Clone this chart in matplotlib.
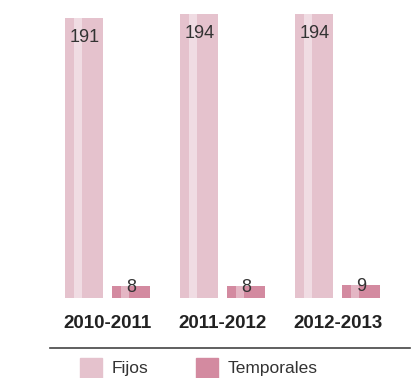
import numpy as np
import matplotlib.pyplot as plt
from matplotlib.patches import Rectangle
from matplotlib.lines import Line2D

periods = ["2010-2011", "2011-2012", "2012-2013"]
fijos = [191, 194, 194]
temporales = [8, 8, 9]
series_names = ["Fijos", "Temporales"]

c_fijos = "#e5c2cd"
c_fijos_hi = "#f0dce3"
c_temp = "#d38aa0"
c_temp_hi = "#e4b6c4"

plt.rcParams['font.family'] = ['Liberation Sans', 'DejaVu Sans']

fig = plt.figure(figsize=(4.12, 3.78), dpi=100)
W, H = 412, 378
ax = fig.add_axes([50 / W, (H - 298) / H, 360 / W, 298 / H])

x = np.arange(len(periods))
off = 0.204
w = 0.33
ax.bar(x - off, fijos, width=w, color=c_fijos)
ax.bar(x + off, temporales, width=w, color=c_temp)
# lighter highlight stripe on each bar
ax.bar(x - off - w * 0.17, fijos, width=w * 0.2, color=c_fijos_hi)
ax.bar(x + off - w * 0.17, temporales, width=w * 0.2, color=c_temp_hi)

for xi, v in zip(x, fijos):
    ax.annotate(str(v), (xi - off, v), xytext=(0, -14), textcoords='offset points',
                ha='center', va='center', fontsize=13, color='#333333')
for xi, v in zip(x, temporales):
    ax.annotate(str(v), (xi + off, v), xytext=(0, -1), textcoords='offset points',
                ha='center', va='center', fontsize=13, color='#333333')

ax.set_xlim(-0.502, 2.628)
ax.set_ylim(0, 203.3)
ax.set_xticks(x)
ax.set_xticklabels(periods, fontsize=13.5, fontweight='bold', color='#222222')
ax.tick_params(axis='x', length=0, pad=12)
ax.set_yticks([])
for s in ax.spines.values():
    s.set_visible(False)

fig.add_artist(Line2D([50 / W, 410 / W], [(H - 348) / H] * 2, color='#444444', lw=1.2))

# legend drawn by hand in figure pixels
legend_colors = [c_fijos, c_temp]
legend_x = [80, 196]
for name, col, lx in zip(series_names, legend_colors, legend_x):
    fig.add_artist(Rectangle((lx / W, 0), 22 / W, 20 / H, color=col,
                             transform=fig.transFigure))
    fig.text((lx + 32) / W, (H - 369) / H, name, fontsize=12.5, color='#333333',
             ha='left', va='center')

fig.savefig("out.png", dpi=100)
